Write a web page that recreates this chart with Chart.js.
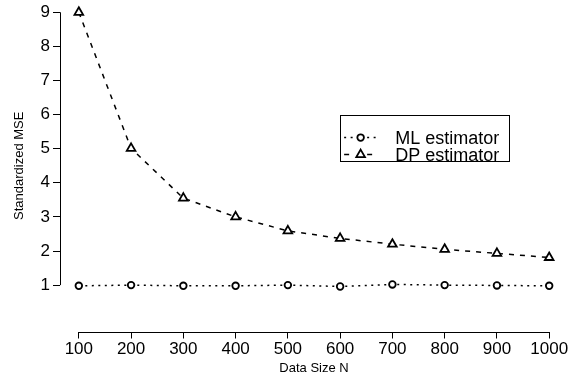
<!DOCTYPE html>
<html>
<head>
<meta charset="utf-8">
<script src="https://cdn.jsdelivr.net/npm/chart.js@4/dist/chart.umd.min.js"></script>
<style>
html,body{margin:0;padding:0;background:#fff;}
#wrap{width:583px;height:378px;position:relative;}
</style>
</head>
<body>
<div id="wrap"><canvas id="c" width="583" height="378"></canvas></div>
<script>
const dataSizes = [100, 200, 300, 400, 500, 600, 700, 800, 900, 1000];
const mlValues = [0.98, 1.00, 0.98, 0.98, 1.00, 0.96, 1.02, 1.00, 0.99, 0.98];
const dpValues = [9.00, 5.01, 3.55, 3.00, 2.59, 2.37, 2.20, 2.05, 1.93, 1.81];
const yTickValues = [1, 2, 3, 4, 5, 6, 7, 8, 9];
const xTickValues = [100, 200, 300, 400, 500, 600, 700, 800, 900, 1000];
const seriesNames = ['ML estimator', 'DP estimator'];
const xTitle = 'Data Size N';
const yTitle = 'Standardized MSE';
const legendAnchor = {x: 600, y: 6};

const FONT = 'Liberation Sans, Arial, Helvetica, sans-serif';

const axisLinesPlugin = {
  id: 'axisLines',
  afterDraw(chart) {
    const ctx = chart.ctx, xs = chart.scales.x, ys = chart.scales.y, ca = chart.chartArea;
    ctx.save();
    ctx.strokeStyle = '#000';
    ctx.lineWidth = 1;
    ctx.beginPath();
    const yb = Math.round(ca.bottom) + 0.5;
    ctx.moveTo(xs.getPixelForValue(xTickValues[0]), yb);
    ctx.lineTo(xs.getPixelForValue(xTickValues[xTickValues.length - 1]), yb);
    const xl = Math.round(ca.left) + 0.5;
    ctx.moveTo(xl, ys.getPixelForValue(yTickValues[0]));
    ctx.lineTo(xl, ys.getPixelForValue(yTickValues[yTickValues.length - 1]));
    ctx.stroke();

    // legend box
    const lx = xs.getPixelForValue(legendAnchor.x);
    const ly = ys.getPixelForValue(legendAnchor.y);
    const w = 169, h = 46;
    ctx.strokeRect(Math.round(lx) + 0.5, Math.round(ly) + 0.5, w, h);
    const rows = [ly + 23, ly + 40];
    const ds = chart.data.datasets;
    ctx.font = '18px ' + FONT;
    ctx.textBaseline = 'middle';
    ctx.textAlign = 'left';
    ds.forEach((d, i) => {
      const ry = rows[i];
      ctx.save();
      ctx.strokeStyle = '#000';
      ctx.lineWidth = d.borderWidth;
      ctx.setLineDash(d.borderDash);
      ctx.beginPath();
      ctx.moveTo(lx + 4, ry);
      ctx.lineTo(lx + 15, ry);
      ctx.moveTo(lx + 27, ry);
      ctx.lineTo(lx + 37, ry);
      ctx.stroke();
      ctx.setLineDash([]);
      ctx.fillStyle = '#fff';
      ctx.lineWidth = d.pointBorderWidth;
      Chart.helpers.drawPoint(ctx, {pointStyle: d.pointStyle, radius: d.pointRadius, rotation: 0, borderWidth: d.pointBorderWidth}, lx + 20.5, ry);
      ctx.restore();
      ctx.fillStyle = '#000';
      ctx.fillText(d.label, lx + 55, ry + 1);
    });
    ctx.restore();
  }
};

new Chart(document.getElementById('c'), {
  type: 'line',
  data: {
    datasets: [
      {
        label: seriesNames[0],
        data: dataSizes.map((x, i) => ({x, y: mlValues[i]})),
        borderColor: '#000', borderWidth: 1.5, borderDash: [2, 4.5],
        pointStyle: 'circle', pointRadius: 3.3, pointBorderWidth: 1.8,
        pointBorderColor: '#000', pointBackgroundColor: '#fff',
        tension: 0, fill: false, clip: false
      },
      {
        label: seriesNames[1],
        data: dataSizes.map((x, i) => ({x, y: dpValues[i]})),
        borderColor: '#000', borderWidth: 1.5, borderDash: [5, 6],
        pointStyle: 'triangle', pointRadius: 5, pointBorderWidth: 1.8,
        pointBorderColor: '#000', pointBackgroundColor: '#fff',
        tension: 0, fill: false, clip: false
      }
    ]
  },
  options: {
    responsive: false,
    animation: false,
    devicePixelRatio: 1,
    layout: {autoPadding: false, padding: {top: 0, right: 15, left: 0, bottom: 0}},
    plugins: {legend: {display: false}, tooltip: {enabled: false}},
    scales: {
      x: {
        type: 'linear', min: 64, max: 1036,
        afterBuildTicks(s) { s.ticks = xTickValues.map(v => ({value: v})); },
        afterFit(s) { s.height = 46.5; s.paddingLeft = 0; s.paddingRight = 0; },
        border: {display: false},
        grid: {display: true, drawOnChartArea: false, drawTicks: true, tickLength: 7, color: '#000', lineWidth: 1},
        ticks: {color: '#000', font: {family: FONT, size: 17}, padding: 1, maxRotation: 0, autoSkip: false, callback: v => String(v)},
        title: {display: true, text: xTitle, color: '#000', font: {family: FONT, size: 13}, padding: {top: 0, bottom: 2}}
      },
      y: {
        type: 'linear', min: -0.36, max: 9.36,
        afterBuildTicks(s) { s.ticks = yTickValues.map(v => ({value: v})); },
        afterFit(s) { s.width = 60; s.paddingTop = 0; s.paddingBottom = 0; },
        border: {display: false},
        grid: {display: true, drawOnChartArea: false, drawTicks: true, tickLength: 7, color: '#000', lineWidth: 1},
        ticks: {color: '#000', font: {family: FONT, size: 17}, padding: 3, autoSkip: false, callback: v => String(v)},
        title: {display: true, text: yTitle, color: '#000', font: {family: FONT, size: 13}, padding: {top: 12, bottom: 0}}
      }
    }
  },
  plugins: [axisLinesPlugin]
});
</script>
</body>
</html>
